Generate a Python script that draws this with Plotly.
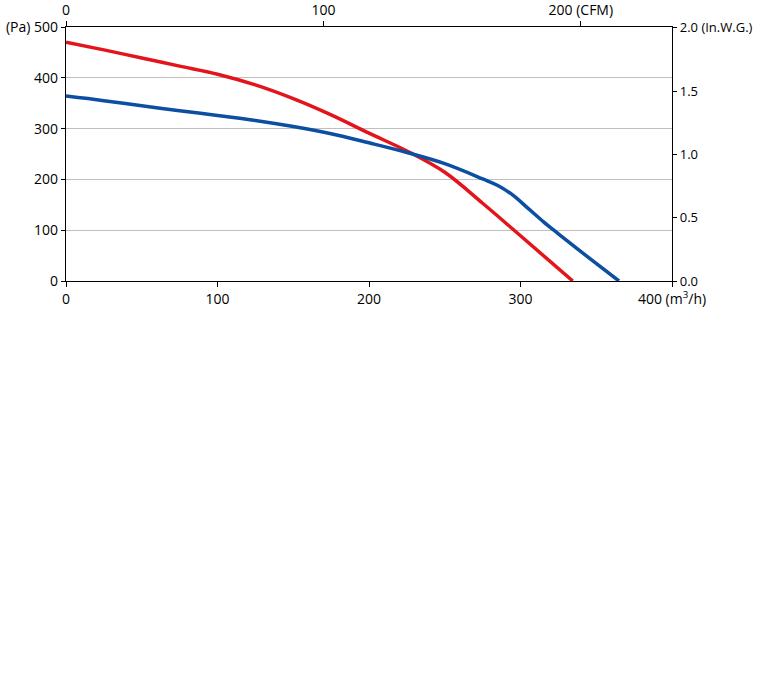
import plotly.graph_objects as go

# Data (flow in m3/h, pressure in Pa)
red_flow = [0, 25, 50, 75, 100, 125, 150, 175, 200, 225, 250, 275, 300, 334.5]
red_pa = [470, 455, 439, 423, 407, 386, 359, 327, 291, 256, 214, 153, 89, 0]
blue_flow = [0, 25, 50, 75, 100, 125, 150, 175, 200, 225, 250, 275, 285, 295, 305, 315, 325, 345, 365]
blue_pa = [364, 355, 345, 335, 326, 316, 304, 290, 272, 253, 231, 201, 188, 169, 143, 117, 93, 46, 0]

left_ticks = [0, 100, 200, 300, 400, 500]
left_text = ["0", "100", "200", "300", "400", "(Pa) 500"]
bottom_ticks = [0, 100, 200, 300, 400]
bottom_text = ["0", "100", "200", "300", "400 (m<sup>3</sup>/h)"]
top_ticks = [0, 100, 200]
top_text = ["0", "100", "200 (CFM)"]
right_ticks = [0, 0.5, 1.0, 1.5, 2.0]
right_text = ["0.0", "0.5", "1.0", "1.5", "2.0 (In.W.G.)"]

M3H_PER_CFM = 1.699
PA_PER_INWG = 249.09

font = dict(family="Open Sans, Noto Sans, sans-serif", size=14, color="#000000")

fig = go.Figure()
fig.add_trace(go.Scatter(x=red_flow, y=red_pa, mode="lines",
                         line=dict(color="#e3141b", width=3.5, shape="spline", smoothing=1.0),
                         hoverinfo="skip", showlegend=False))
fig.add_trace(go.Scatter(x=blue_flow, y=blue_pa, mode="lines",
                         line=dict(color="#0b4ea2", width=3.5, shape="spline", smoothing=1.0),
                         hoverinfo="skip", showlegend=False))
fig.add_trace(go.Scatter(x=[None], y=[None], xaxis="x2", yaxis="y2", mode="lines",
                         hoverinfo="skip", showlegend=False))

common = dict(zeroline=False, showline=True, linecolor="black", linewidth=1.3,
              ticks="outside", tickcolor="black", fixedrange=True, automargin=False)

fig.update_layout(
    width=768, height=690,
    margin=dict(l=66, r=96, t=27, b=409),
    paper_bgcolor="white", plot_bgcolor="white",
    font=font,
    xaxis=dict(range=[0, 400], tickvals=bottom_ticks, ticktext=bottom_text,
               showgrid=False, ticklen=5, **common),
    yaxis=dict(range=[0, 500], tickvals=left_ticks, ticktext=left_text,
               showgrid=True, gridcolor="#bfbfbf", gridwidth=1, ticklen=4, **common),
    xaxis2=dict(range=[0, 400 / M3H_PER_CFM], tickvals=top_ticks, ticktext=top_text,
                overlaying="x", side="top", anchor="y",
                showgrid=False, ticklen=5, **common),
    yaxis2=dict(range=[0, 500 / PA_PER_INWG], tickvals=right_ticks, ticktext=right_text,
                overlaying="y", side="right", anchor="x", tickfont=dict(size=13),
                showgrid=False, ticklen=4, **common),
)

# Remove the default page margin so the figure fills the window exactly.
fig.write_html("out.html", config={"displayModeBar": False},
               post_script="document.body.style.margin='0px';document.body.style.overflow='hidden';")
